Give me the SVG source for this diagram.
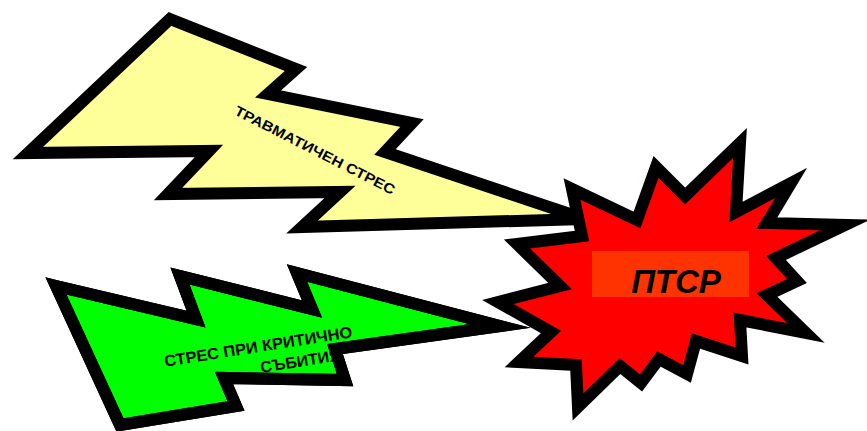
<svg xmlns="http://www.w3.org/2000/svg" width="867" height="431" viewBox="0 0 867 431">
<style>
.shape{stroke:#000;stroke-width:12;stroke-linejoin:miter;stroke-miterlimit:30}
.lbl{font-family:"Liberation Sans",Arial,sans-serif;font-weight:bold;fill:#000}
</style>
<defs>
<clipPath id="gclip"><polygon points="56,286 196,319 180,276 312,309 297,273 500,326 335,349 345,380 224,378 236,406 120,425"/></clipPath>
</defs>
<g id="traumatic">
<polygon class="shape" fill="#FFFF99" points="170,19 296,69 268,94 412,123 385,152 585,219 302,227 340,192 168,194 209,151 28,153"/>
<text class="lbl" font-size="14" text-anchor="middle" textLength="178" lengthAdjust="spacingAndGlyphs" transform="translate(315,150) rotate(27)" x="0" y="5">ТРАВМАТИЧЕН СТРЕС</text>
</g>
<g id="critical">
<polygon class="shape" fill="#00FF00" points="56,286 196,319 180,276 312,309 297,273 500,326 335,349 345,380 224,378 236,406 120,425"/>
<g clip-path="url(#gclip)">
<text class="lbl" font-size="16" transform="translate(259,352) rotate(-9)"><tspan x="0" y="0" text-anchor="middle" textLength="190" lengthAdjust="spacingAndGlyphs">СТРЕС ПРИ КРИТИЧНО</tspan><tspan x="-1" y="21" text-anchor="start">СЪБИТИЯ</tspan></text>
</g>
<polygon class="shape" fill="none" points="56,286 196,319 180,276 312,309 297,273 500,326 335,349 345,380 224,378 236,406 120,425"/>
</g>
<g id="ptsd">
<polygon class="shape" fill="#FF0000" points="740,143 736,212 791,183 767,223 845,225 776,258 797,281 767,295 806,333 740,320 742,356 696,341 687,374 659,359 641,383 620,366 578,407 576,365 519,362 551,332 498,302 560,286 517,244 582,236 572,189 637,220 656,167 685,196"/>
<rect x="592" y="251" width="157" height="46" fill="#FF3300"/>
<text class="lbl" font-size="33" font-style="italic" text-anchor="middle" x="676" y="293">ПТСР</text>
</g>
<g id="connectors"></g>
</svg>
